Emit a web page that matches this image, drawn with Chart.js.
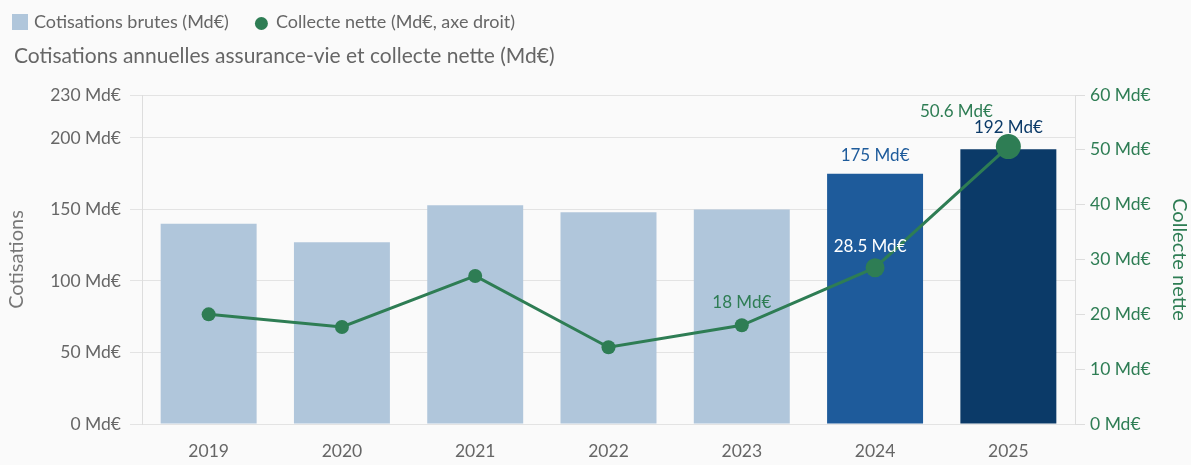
<!DOCTYPE html>
<html>
<head>
<meta charset="utf-8">
<script src="https://cdn.jsdelivr.net/npm/chart.js@4/dist/chart.umd.min.js"></script>
<style>
  html, body { margin: 0; padding: 0; background: #fafafa; }
  canvas { display: block; }
</style>
</head>
<body>
<canvas id="c" width="1191" height="465"></canvas>
<script>
// ---- Data ----
const years = ['2019', '2020', '2021', '2022', '2023', '2024', '2025'];
const cotisations = [140, 127, 153, 148, 150, 175, 192];
const collecteNette = [20, 17.7, 27, 14, 18, 28.5, 50.6];
const leftTicks = [0, 50, 100, 150, 200, 230];
const rightTicks = [0, 10, 20, 30, 40, 50, 60];
const legendLabels = ['Cotisations brutes (Md€)', 'Collecte nette (Md€, axe droit)'];
const titleText = 'Cotisations annuelles assurance-vie et collecte nette (Md€)';
const leftAxisTitle = 'Cotisations';
const rightAxisTitle = 'Collecte nette';
const unit = ' Md€';

const FONT = 'Lato';
const GREEN = '#2e7d54';
const LIGHT = '#b0c6db';
const MID = '#1e5b9b';
const DARK = '#0b3a68';
const GREY = '#666666';

const fmt = v => v + unit;

const headerPlugin = {
  id: 'header',
  afterDraw(chart) {
    const ctx = chart.ctx;
    ctx.save();
    ctx.font = '18px ' + FONT;
    ctx.textBaseline = 'middle';
    ctx.textAlign = 'left';
    // legend item 1 (square)
    ctx.fillStyle = LIGHT;
    ctx.fillRect(12, 14, 16, 16);
    ctx.fillStyle = GREY;
    ctx.fillText(chart.data.datasets[0].label, 34, 22);
    let x = 34 + ctx.measureText(chart.data.datasets[0].label).width + 26;
    // legend item 2 (circle)
    ctx.fillStyle = GREEN;
    ctx.beginPath();
    ctx.arc(x + 6.5, 23.5, 6.5, 0, Math.PI * 2);
    ctx.fill();
    ctx.fillStyle = GREY;
    ctx.fillText(chart.data.datasets[1].label, x + 13 + 8, 22);
    // title
    ctx.font = '21px ' + FONT;
    ctx.fillText(titleText, 14, 56);
    ctx.restore();
  }
};

const valuePlugin = {
  id: 'values',
  afterDatasetsDraw(chart) {
    const ctx = chart.ctx;
    const bars = chart.getDatasetMeta(0).data;
    const pts = chart.getDatasetMeta(1).data;
    ctx.save();
    ctx.font = '17px ' + FONT;
    ctx.textAlign = 'center';
    ctx.textBaseline = 'middle';
    ctx.fillStyle = MID;
    ctx.fillText(fmt(cotisations[5]), bars[5].x, bars[5].y - 18);
    ctx.fillStyle = DARK;
    ctx.fillText(fmt(cotisations[6]), bars[6].x, bars[6].y - 22);
    ctx.fillStyle = GREEN;
    ctx.fillText(fmt(collecteNette[4]), pts[4].x, pts[4].y - 23);
    ctx.fillStyle = '#ffffff';
    ctx.fillText(fmt(collecteNette[5]), pts[5].x - 5, pts[5].y - 21);
    ctx.fillStyle = GREEN;
    ctx.fillText(fmt(collecteNette[6]), pts[6].x - 52, pts[6].y - 35);
    ctx.restore();
  }
};

new Chart(document.getElementById('c'), {
  data: {
    labels: years,
    datasets: [
      {
        type: 'bar',
        label: legendLabels[0],
        data: cotisations,
        yAxisID: 'y',
        order: 2,
        categoryPercentage: 0.9,
        barPercentage: 0.8,
        backgroundColor: c => c.dataIndex === 6 ? DARK : (c.dataIndex === 5 ? MID : LIGHT)
      },
      {
        type: 'line',
        label: legendLabels[1],
        data: collecteNette,
        yAxisID: 'y1',
        order: 1,
        borderColor: GREEN,
        backgroundColor: GREEN,
        borderWidth: 3,
        tension: 0,
        pointBorderWidth: 0,
        pointRadius: c => c.dataIndex === 6 ? 12.5 : (c.dataIndex === 5 ? 9.5 : 7)
      }
    ]
  },
  options: {
    responsive: false,
    animation: false,
    events: [],
    font: { family: FONT },
    layout: { padding: { top: 95, left: 0, right: 0, bottom: 0 } },
    plugins: {
      legend: { display: false },
      title: { display: false },
      tooltip: { enabled: false }
    },
    scales: {
      x: {
        grid: { display: false, drawTicks: false },
        border: { display: false },
        ticks: { color: GREY, font: { family: FONT, size: 17.5 }, padding: 17 },
        afterFit: s => { s.height = 41; }
      },
      y: {
        position: 'left',
        min: 0,
        max: 230,
        afterBuildTicks: s => { s.ticks = leftTicks.map(v => ({ value: v })); },
        ticks: { color: GREY, font: { family: FONT, size: 17.5 }, padding: 9, callback: v => fmt(v) },
        grid: { color: '#e3e3e3', tickLength: 12 },
        border: { color: '#dddddd' },
        title: { display: true, text: leftAxisTitle, color: '#777777', font: { family: FONT, size: 20 }, padding: { top: 5, bottom: 0 } },
        afterFit: s => { s.width = 142; }
      },
      y1: {
        position: 'right',
        min: 0,
        max: 60,
        afterBuildTicks: s => { s.ticks = rightTicks.map(v => ({ value: v })); },
        ticks: { color: GREEN, font: { family: FONT, size: 17.5 }, padding: 5, callback: v => fmt(v) },
        grid: { drawOnChartArea: false, color: '#dddddd', tickLength: 10 },
        border: { color: '#dddddd' },
        title: { display: true, text: rightAxisTitle, color: GREEN, font: { family: FONT, size: 20 }, padding: { top: 0, bottom: 0 } },
        afterFit: s => { s.width = 116; }
      }
    }
  },
  plugins: [headerPlugin, valuePlugin]
});
</script>
</body>
</html>
